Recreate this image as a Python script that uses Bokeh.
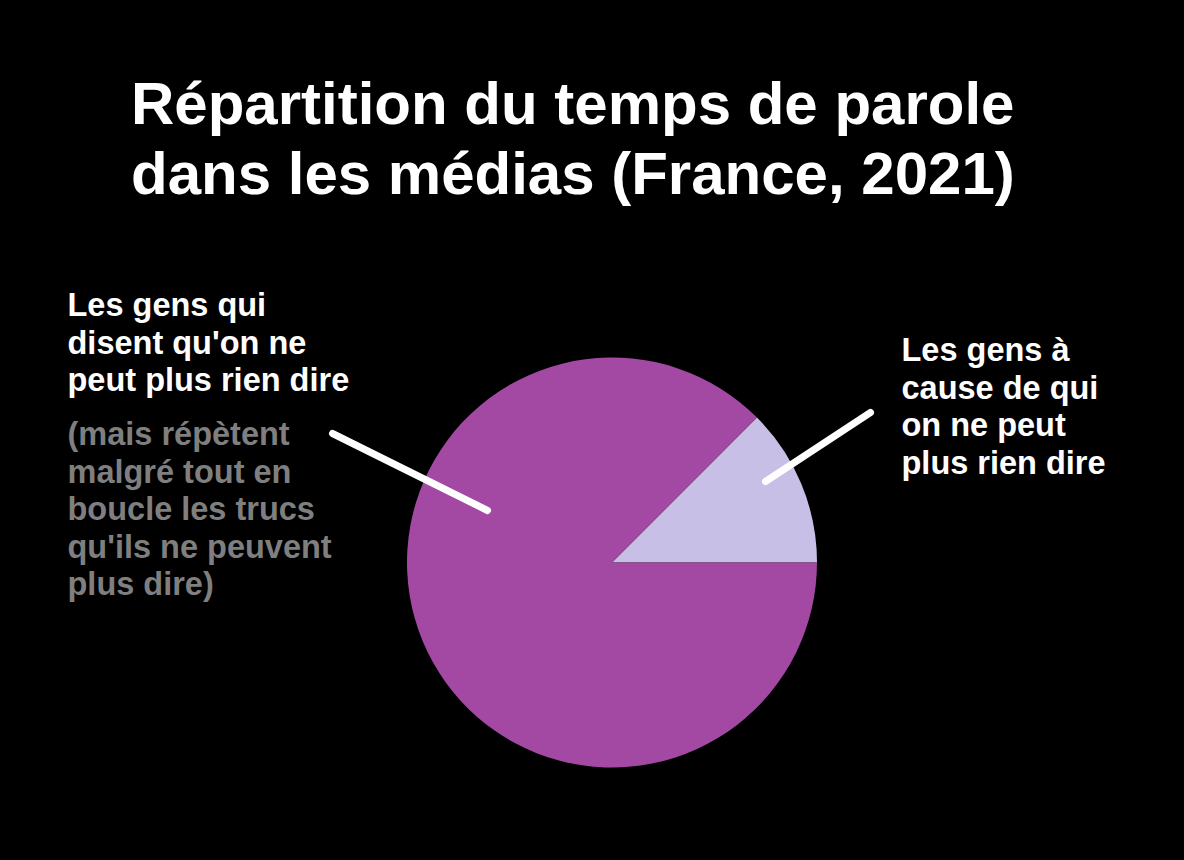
import math
from bokeh.plotting import figure
from bokeh.models import Range1d
from bokeh.core.properties import value
from bokeh.embed import file_html
from bokeh.resources import INLINE

# ---- data ----
categories = ["Les gens à cause de qui on ne peut plus rien dire",
              "Les gens qui disent qu'on ne peut plus rien dire"]
shares = [12.5, 87.5]
colors = ["#C8BFE7", "#A349A4"]

title_lines = ["Répartition du temps de parole", "dans les médias (France, 2021)"]
left_label = ["Les gens qui", "disent qu'on ne", "peut plus rien dire"]
left_note = ["(mais répètent", "malgré tout en", "boucle les trucs", "qu'ils ne peuvent", "plus dire)"]
right_label = ["Les gens à", "cause de qui", "on ne peut", "plus rien dire"]

W, H = 1168, 844
def px(x):
    return x
def py(y):
    return H - y

p = figure(width=W, height=H, output_backend="svg", toolbar_location=None,
           x_range=Range1d(0, W), y_range=Range1d(0, H),
           x_axis_location=None, y_axis_location=None, min_border=0,
           background_fill_color="#000000", border_fill_color="#000000")
p.outline_line_color = None
p.grid.visible = False

# pie
total = sum(shares)
starts, ends = [], []
acc = 0.0
for s in shares:
    starts.append(2 * math.pi * acc / total)
    acc += s
    ends.append(2 * math.pi * acc / total)
cx, cy, r = px(611.5), py(562), 205
p.wedge(x=[cx] * len(shares), y=[cy] * len(shares), radius=r,
        start_angle=starts, end_angle=ends, fill_color=colors,
        line_color=None)

font = value("Liberation Sans")

# title
tdy = -19
p.text(x=[px(130.5)] * 2, y=[py(122 + tdy), py(192 + tdy)], text=title_lines,
       text_font=font, text_font_style="bold", text_font_size="60px",
       text_color="#FFFFFF", text_baseline="alphabetic", text_align="left")

step = 37.5
fs = "32.5px"
ldy = -8.5
p.text(x=[px(67)] * len(left_label), y=[py(313 + ldy + i * step) for i in range(len(left_label))],
       text=left_label, text_font=font, text_font_style="bold", text_font_size=fs,
       text_color="#FFFFFF", text_baseline="alphabetic", text_align="left")
p.text(x=[px(67)] * len(left_note), y=[py(442 + ldy + i * step) for i in range(len(left_note))],
       text=left_note, text_font=font, text_font_style="bold", text_font_size=fs,
       text_color="#7F7F7F", text_baseline="alphabetic", text_align="left")
p.text(x=[px(901)] * len(right_label), y=[py(358 + ldy + i * step) for i in range(len(right_label))],
       text=right_label, text_font=font, text_font_style="bold", text_font_size=fs,
       text_color="#FFFFFF", text_baseline="alphabetic", text_align="left")

# leader lines
p.segment(x0=[px(332), px(765)], y0=[py(433), py(481)],
          x1=[px(487), px(870)], y1=[py(510), py(412)],
          line_color="#FFFFFF", line_width=7, line_cap="round")

html = file_html(p, INLINE, title="Répartition du temps de parole")
html = html.replace("</head>", "<style>html,body{background:#000000;}</style></head>", 1)
open("out.html", "w").write(html)
